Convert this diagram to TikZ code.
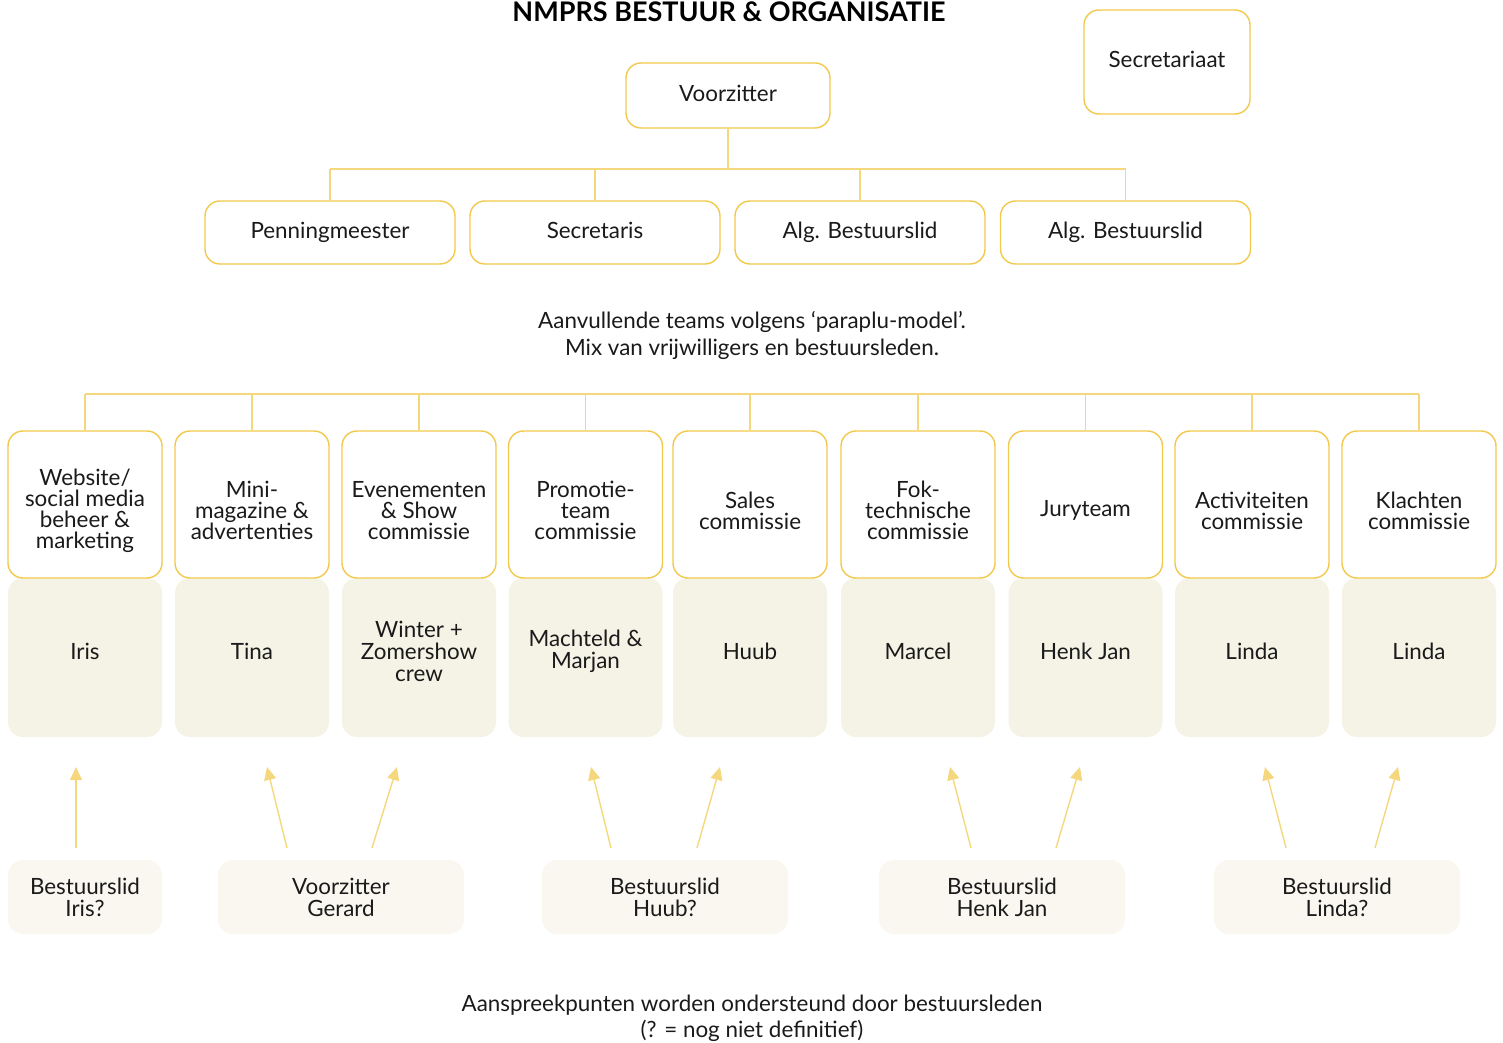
\documentclass[tikz,border=0pt]{standalone}
\usepackage{fontspec}
\setmainfont{Lato}
\usetikzlibrary{arrows.meta}
\definecolor{gold}{HTML}{F2C94C}
\definecolor{goldline}{HTML}{F5D77E}
\definecolor{cream}{HTML}{F5F3E6}
\definecolor{creamlight}{HTML}{F9F7F0}
\definecolor{ink}{HTML}{1A1A1A}
\tikzset{
  bestuur/.style= {draw=gold, line width=0.7pt, rounded corners=7.5pt, fill=white, text=ink,
    font=\fontsize{11.2}{10.5}\selectfont, inner sep=0pt},
  enkel/.style= {text height=1.55ex, text depth=.45ex},
  team/.style= {bestuur, minimum width=77pt, minimum height=73.5pt},
  teamtekst/.style= {align=center, text=ink, font=\fontsize{11.2}{10.5}\selectfont, inner sep=0pt},
  naam/.style= {fill=cream, rounded corners=7.5pt, minimum width=77pt, minimum height=79.5pt, inner sep=0pt},
  naamtekst/.style= {align=center, text=ink, font=\fontsize{11.2}{11}\selectfont, inner sep=0pt},
  steunbox/.style= {fill=creamlight, rounded corners=7.5pt, minimum height=37pt,
    align=center, text=ink, font=\fontsize{11.2}{11}\selectfont, inner sep=0pt},
  tak/.style= {draw=goldline, line width=0.6pt},
  steun/.style= {draw=goldline, line width=0.7pt, -{Triangle[length=6.5pt, width=6pt]}},
  uitleg/.style= {align=center, text=ink, font=\fontsize{11.2}{13.5}\selectfont},
}

\begin{document}
\begin{tikzpicture}[x=0.5pt, y=-0.5pt]
  \useasboundingbox (0,0) rectangle (1503,1043);

  \node [anchor=base, text=black, font=\bfseries\fontsize{13.5}{14}\selectfont] (titel) at (729,22) {NMPRS BESTUUR \& ORGANISATIE};

  % bestuur
  \node [bestuur, enkel, minimum width=102pt, minimum height=32.5pt] (voorz) at (728,95.5) {Voorzitter};
  \node [bestuur, enkel, minimum width=83pt, minimum height=52pt] (secr) at (1167,62) {Secretariaat};
  \node [bestuur, enkel, minimum width=125pt, minimum height=31.5pt] (penning) at (330,232.5) {Penningmeester};
  \node [bestuur, enkel, minimum width=125pt, minimum height=31.5pt] (secris) at (595,232.5) {Secretaris};
  \node [bestuur, enkel, minimum width=125pt, minimum height=31.5pt] (alga) at (860,232.5) {Alg. Bestuurslid};
  \node [bestuur, enkel, minimum width=125pt, minimum height=31.5pt] (algb) at (1125.5,232.5) {Alg. Bestuurslid};

  \coordinate (hub) at (728,169);
  \draw [tak] (voorz) -- (hub);
  \draw [tak] (penning.north |- hub) -- (algb.north |- hub);
  \foreach \n in {penning, secris, alga, algb}
    \draw [tak] (\n.north |- hub) -- (\n.north);

  \node [uitleg] (paraplu) at (752,335.5) {Aanvullende teams volgens ‘paraplu-model’.\\Mix van vrijwilligers en bestuursleden.};

  % teams
  \node [naam] (nweb) at (85,657.5) {};
  \node [naam] (nmag) at (252,657.5) {};
  \node [naam] (nev) at (419,657.5) {};
  \node [naam] (npro) at (585.5,657.5) {};
  \node [naam] (nsal) at (750,657.5) {};
  \node [naam] (nfok) at (918,657.5) {};
  \node [naam] (njur) at (1085.5,657.5) {};
  \node [naam] (nact) at (1252,657.5) {};
  \node [naam] (nkla) at (1419,657.5) {};
  \node [naamtekst] (tweb) at (85,651) {Iris};
  \node [naamtekst] (tmag) at (252,651) {Tina};
  \node [naamtekst] (tev) at (419,651) {Winter +\\Zomershow\\crew};
  \node [naamtekst] (tpro) at (585.5,651) {Machteld \&\\Marjan};
  \node [naamtekst] (tsal) at (750,651) {Huub};
  \node [naamtekst] (tfok) at (918,651) {Marcel};
  \node [naamtekst] (tjur) at (1085.5,651) {Henk Jan};
  \node [naamtekst] (tact) at (1252,651) {Linda};
  \node [naamtekst] (tkla) at (1419,651) {Linda};

  \node [team] (web) at (85,504.5) {};
  \node [team] (mag) at (252,504.5) {};
  \node [team] (ev) at (419,504.5) {};
  \node [team] (pro) at (585.5,504.5) {};
  \node [team] (sal) at (750,504.5) {};
  \node [team] (fok) at (918,504.5) {};
  \node [team] (jur) at (1085.5,504.5) {};
  \node [team] (act) at (1252,504.5) {};
  \node [team] (kla) at (1419,504.5) {};
  \node [teamtekst] (lweb) at (85,510.5) {Website/\\social media\\beheer \&\\marketing};
  \node [teamtekst] (lmag) at (252,510.5) {Mini-\\magazine \&\\advertenties};
  \node [teamtekst] (lev) at (419,510.5) {Evenementen\\\& Show\\commissie};
  \node [teamtekst] (lpro) at (585.5,510.5) {Promotie-\\team\\commissie};
  \node [teamtekst] (lsal) at (750,510.5) {Sales\\commissie};
  \node [teamtekst] (lfok) at (918,510.5) {Fok-\\technische\\commissie};
  \node [teamtekst] (ljur) at (1085.5,510.5) {Juryteam};
  \node [teamtekst] (lact) at (1252,510.5) {Activiteiten\\commissie};
  \node [teamtekst] (lkla) at (1419,510.5) {Klachten\\commissie};

  \coordinate (paraplubar) at (750,394);
  \draw [tak] (web.north |- paraplubar) -- (kla.north |- paraplubar);
  \foreach \n in {web, mag, ev, pro, sal, fok, jur, act, kla}
    \draw [tak] (\n.north |- paraplubar) -- (\n.north);

  % bestuursleden als steun
  \node [steunbox, minimum width=77pt] (biris) at (85,897) {Bestuurslid\\Iris?};
  \node [steunbox, minimum width=123pt] (bgerard) at (341,897) {Voorzitter\\Gerard};
  \node [steunbox, minimum width=123pt] (bhuub) at (665,897) {Bestuurslid\\Huub?};
  \node [steunbox, minimum width=123pt] (bhenk) at (1002,897) {Bestuurslid\\Henk Jan};
  \node [steunbox, minimum width=123pt] (blinda) at (1337,897) {Bestuurslid\\Linda?};

  \coordinate (s1) at (76,848);   \coordinate (e1) at (76,767);
  \coordinate (s2) at (287,848);  \coordinate (e2) at (267,767);
  \coordinate (s3) at (372,848);  \coordinate (e3) at (397,767);
  \coordinate (s4) at (611,848);  \coordinate (e4) at (591,767);
  \coordinate (s5) at (697,848);  \coordinate (e5) at (720,767);
  \coordinate (s6) at (971,848);  \coordinate (e6) at (950,767);
  \coordinate (s7) at (1056,848); \coordinate (e7) at (1080,767);
  \coordinate (s8) at (1286,848); \coordinate (e8) at (1265,767);
  \coordinate (s9) at (1375,848); \coordinate (e9) at (1398,767);
  \foreach \i in {1,...,9}
    \draw [steun] (s\i) -- (e\i);

  \node [uitleg, font=\fontsize{11.2}{13}\selectfont] (noot) at (752,1018) {Aanspreekpunten worden ondersteund door bestuursleden\\(? = nog niet definitief)};
\end{tikzpicture}
\end{document}
